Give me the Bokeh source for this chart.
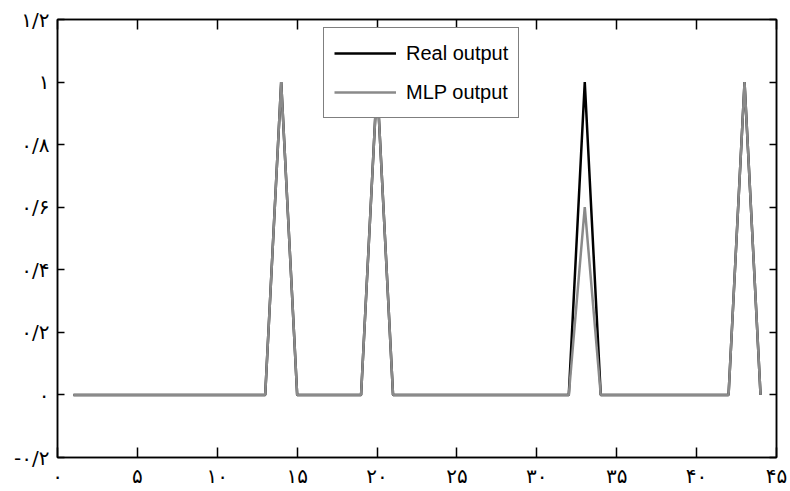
from bokeh.plotting import figure
from bokeh.models import LinearAxis, FixedTicker, Legend, LegendItem, Range1d, ColumnDataSource
from bokeh.embed import file_html
from bokeh.resources import INLINE

# ---- data ----
x_vals = [1, 2, 3, 4, 5, 6, 7, 8, 9, 10, 11, 12, 13, 14, 15, 16, 17, 18, 19, 20, 21, 22,
          23, 24, 25, 26, 27, 28, 29, 30, 31, 32, 33, 34, 35, 36, 37, 38, 39, 40, 41, 42, 43, 44]
real_output = [0, 0, 0, 0, 0, 0, 0, 0, 0, 0, 0, 0, 0, 1, 0, 0, 0, 0, 0, 1, 0, 0,
               0, 0, 0, 0, 0, 0, 0, 0, 0, 0, 1, 0, 0, 0, 0, 0, 0, 0, 0, 0, 1, 0]
mlp_output = [0, 0, 0, 0, 0, 0, 0, 0, 0, 0, 0, 0, 0, 1, 0, 0, 0, 0, 0, 1, 0, 0,
              0, 0, 0, 0, 0, 0, 0, 0, 0, 0, 0.6, 0, 0, 0, 0, 0, 0, 0, 0, 0, 1, 0]
series_names = ["Real output", "MLP output"]

x_ticks = [0, 5, 10, 15, 20, 25, 30, 35, 40, 45]
x_tick_labels = ["۰", "۵", "۱۰", "۱۵", "۲۰", "۲۵", "۳۰", "۳۵", "۴۰", "۴۵"]
y_ticks = [-0.2, 0, 0.2, 0.4, 0.6, 0.8, 1, 1.2]
y_tick_labels = ["-۰/۲", "۰", "۰/۲", "۰/۴", "۰/۶", "۰/۸", "۱", "۱/۲"]

src = ColumnDataSource(dict(x=x_vals, real=real_output, mlp=mlp_output))

p = figure(width=790, height=491, output_backend="svg", toolbar_location=None,
           x_range=Range1d(0, 45), y_range=Range1d(-0.2, 1.2),
           min_border_left=57, min_border_right=14, min_border_top=19, min_border_bottom=34,
           background_fill_color="white", border_fill_color="white")
p.grid.visible = False
p.outline_line_color = "black"
p.outline_line_width = 1.5

tick_font = "DejaVu Sans"

# bottom axis
xa = p.xaxis[0]
xa.ticker = FixedTicker(ticks=x_ticks)
xa.major_label_overrides = dict(zip(x_ticks, x_tick_labels))
xa.major_tick_in = 10
xa.major_tick_out = 0
xa.minor_tick_line_color = None
xa.major_label_standoff = 6
xa.major_label_text_font = tick_font
xa.major_label_text_font_size = "20px"
xa.major_label_text_color = "black"
xa.axis_line_width = 1.5
xa.major_tick_line_width = 1.5

# left axis
ya = p.yaxis[0]
ya.ticker = FixedTicker(ticks=y_ticks)
ya.major_label_overrides = dict(zip(y_ticks, y_tick_labels))
ya.major_tick_in = 7
ya.major_tick_out = 0
ya.minor_tick_line_color = None
ya.major_label_standoff = 8
ya.major_label_text_font = tick_font
ya.major_label_text_font_size = "20px"
ya.major_label_text_color = "black"
ya.axis_line_width = 1.5
ya.major_tick_line_width = 1.5

# mirrored axes (ticks only)
top = LinearAxis(ticker=FixedTicker(ticks=x_ticks), major_tick_in=10, major_tick_out=0,
                 minor_tick_line_color=None, major_label_overrides={t: "" for t in x_ticks},
                 major_label_text_font_size="1px",
                 major_label_standoff=0, axis_line_width=1.5, major_tick_line_width=1.5)
right = LinearAxis(ticker=FixedTicker(ticks=y_ticks), major_tick_in=7, major_tick_out=0,
                   minor_tick_line_color=None, major_label_overrides={t: "" for t in y_ticks},
                   major_label_text_font_size="1px",
                   major_label_standoff=0, axis_line_width=1.5, major_tick_line_width=1.5)
p.add_layout(top, "above")
p.add_layout(right, "right")

r1 = p.line("x", "real", source=src, line_color="black", line_width=2.5)
r2 = p.line("x", "mlp", source=src, line_color="#8a8a8a", line_width=2.5)

legend = Legend(items=[LegendItem(label=series_names[0], renderers=[r1]),
                       LegendItem(label=series_names[1], renderers=[r2])],
                location=(266, 339), border_line_color="black", border_line_width=1,
                glyph_width=62, glyph_height=30, label_standoff=10, padding=10,
                spacing=9, margin=0, label_text_font="Liberation Sans",
                label_text_font_size="20px", label_text_color="black",
                background_fill_color="white", background_fill_alpha=1)
p.add_layout(legend)

open("out.html", "w").write(file_html(p, INLINE))
